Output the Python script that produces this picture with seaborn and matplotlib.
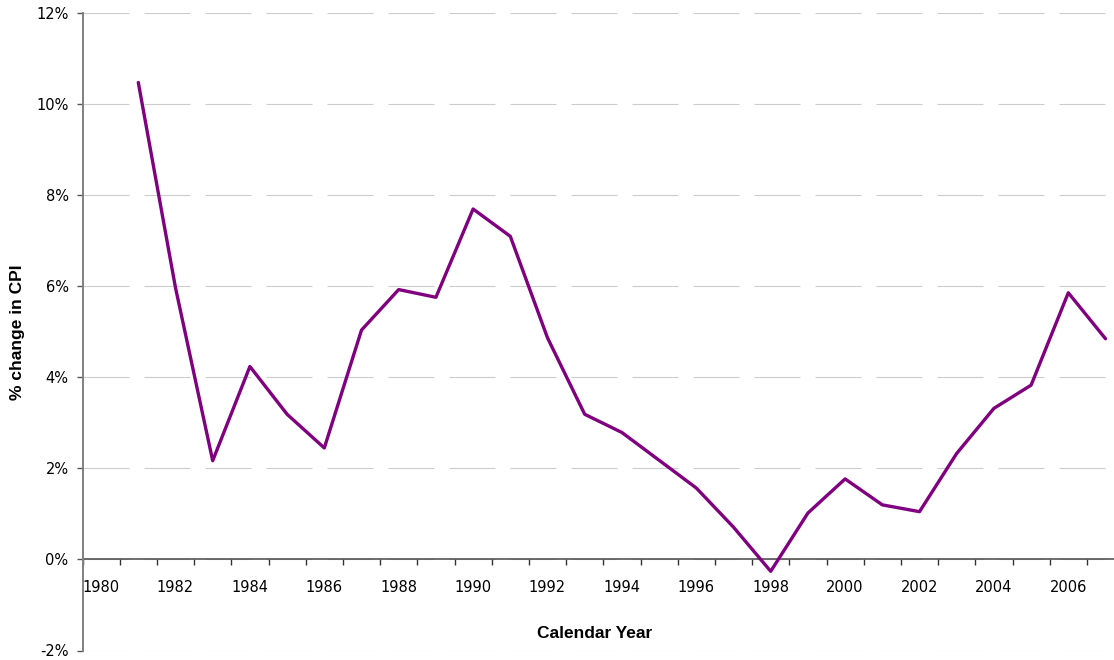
import matplotlib
matplotlib.use("Agg")
import matplotlib.pyplot as plt
from matplotlib.ticker import FixedLocator, PercentFormatter, NullFormatter
import seaborn as sns
import pandas as pd

# Annual % change in CPI
years = list(range(1981, 2008))
cpi_change = [10.48, 5.97, 2.17, 4.24, 3.19, 2.45, 5.04, 5.93, 5.76, 7.70,
              7.10, 4.87, 3.19, 2.79, 2.18, 1.57, 0.71, -0.26, 1.02, 1.77,
              1.20, 1.05, 2.33, 3.32, 3.83, 5.86, 4.85]
first_year, last_year = 1980, 2007
label_years = list(range(1980, 2007, 2))
y_ticks = list(range(-2, 13, 2))

df = pd.DataFrame({"year": years, "cpi": cpi_change})

sns.set_theme(style="white")
plt.rcParams["font.family"] = ["DejaVu Sans"]
plt.rcParams["axes.unicode_minus"] = False
plt.rcParams["text.color"] = "#000000"

W, H = 1114, 660
fig = plt.figure(figsize=(W / 100, H / 100), dpi=100)
ax = fig.add_axes([82.5 / W, (H - 650.5) / H, 1041.6 / W, (650.5 - 13.3) / H])

# dashed light-grey horizontal gridlines
px = 0.72
grid_lw = 0.8
for v in y_ticks:
    ax.axhline(v, color="#cccccc", lw=grid_lw, zorder=0,
               linestyle=(0, (46 * px / grid_lw, 15 * px / grid_lw)))

sns.lineplot(data=df, x="year", y="cpi", ax=ax, color="#800080",
             linewidth=2.4, zorder=3)

ax.set_xlim(first_year - 0.5, last_year + 0.5)
ax.set_ylim(-2, 12)

# category-style axis: tick marks between years, labels centred on years
ax.xaxis.set_major_locator(FixedLocator([y + 0.5 for y in range(first_year - 1, last_year + 1)]))
ax.xaxis.set_major_formatter(NullFormatter())
ax.xaxis.set_minor_locator(FixedLocator(label_years))
ax.set_xticklabels([str(y) for y in label_years], minor=True)
ax.tick_params(axis="x", which="major", direction="out", length=4, width=1,
               color="#333333", bottom=True)
ax.tick_params(axis="x", which="minor", length=0, pad=15, labelsize=10.5,
               labelcolor="#000000", bottom=True)

ax.yaxis.set_major_locator(FixedLocator(y_ticks))
ax.yaxis.set_major_formatter(PercentFormatter(xmax=100, decimals=0))
ax.tick_params(axis="y", direction="out", length=4, width=1, color="#555555",
               left=True, pad=6, labelsize=10.5, labelcolor="#000000")

for s in ("top", "right"):
    ax.spines[s].set_visible(False)
ax.spines["left"].set_color("#808080")
ax.spines["left"].set_linewidth(1.4)
ax.spines["bottom"].set_position(("data", 0))
ax.spines["bottom"].set_color("#555555")
ax.spines["bottom"].set_linewidth(1.2)
ax.spines["bottom"].set_zorder(2)

ax.set_xlabel("")
ax.set_ylabel("")
fig.text(595 / W, 1 - 634 / H, "Calendar Year", ha="center", va="center",
         fontsize=12.5, fontweight="bold", family="Liberation Sans",
         color="#000000")
fig.text(18 / W, 1 - 332 / H, "% change in CPI", ha="center", va="center",
         rotation=90, fontsize=12.5, fontweight="bold", family="Liberation Sans",
         color="#000000")

fig.savefig("out.png", dpi=100, facecolor="white")
